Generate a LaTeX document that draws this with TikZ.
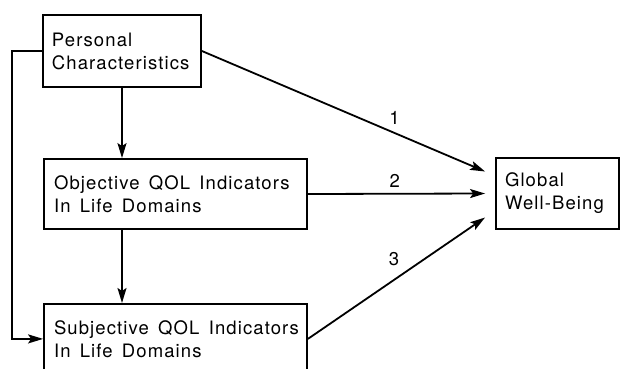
\documentclass[tikz,border=0pt]{standalone}
\usepackage{fontspec}
\setmainfont[LetterSpace=6]{TeX Gyre Heros}
\usetikzlibrary{arrows.meta,positioning}

\begin{document}
\begin{tikzpicture}[x=1pt, y=-1pt, every node/.style={font=\fontsize{18.5}{23}\selectfont},
  bx/.style={draw, line width=1.8pt, inner sep=0pt, align=left},
  arr/.style={-{Stealth[length=15pt, width=9pt, inset=3pt]}, line width=1.8pt},
  num/.style={above=8pt, inner sep=0pt}]
\useasboundingbox (0,0) rectangle (622,368);
% boxes
\node[bx, minimum width=158pt, minimum height=72pt, text width=140pt] (pc) at (122,51) {Personal\\Characteristics};
\node[bx, minimum width=263pt, minimum height=70pt, text width=243pt] (ob) at (175.5,194) {Objective\enspace QOL\enspace Indicators\\In\enspace Life\enspace Domains};
\node[bx, minimum width=263pt, minimum height=70pt, text width=243pt, anchor=north] (sq) at (175.5,303) {Subjective\enspace QOL\enspace Indicators\\In\enspace Life\enspace Domains\\[14pt]};
\node[bx, minimum width=123pt, minimum height=71pt, text width=105pt] (gw) at (557.5,193.5) {Global\\Well-Being};
% Arrows
\draw[arr] (pc.south) -- (pc.south |- ob.north);
\draw[arr] (pc.south |- ob.south) -- (pc.south |- sq.north);
\draw[arr] (pc.west) -- ++(-30,0) |- (sq.west);
\draw[arr] (pc.east) -- node[num, pos=0.68]{1} ([xshift=-10pt, yshift=22pt]gw.west);
\draw[arr] (ob.east) -- node[above=5pt, inner sep=0pt, pos=0.49]{2} ([xshift=-10pt]gw.west);
\draw[arr] (sq.east) -- node[num, pos=0.52, above left=9pt and 0pt]{3} ([xshift=-10pt, yshift=-24pt]gw.west);
\end{tikzpicture}
\end{document}
